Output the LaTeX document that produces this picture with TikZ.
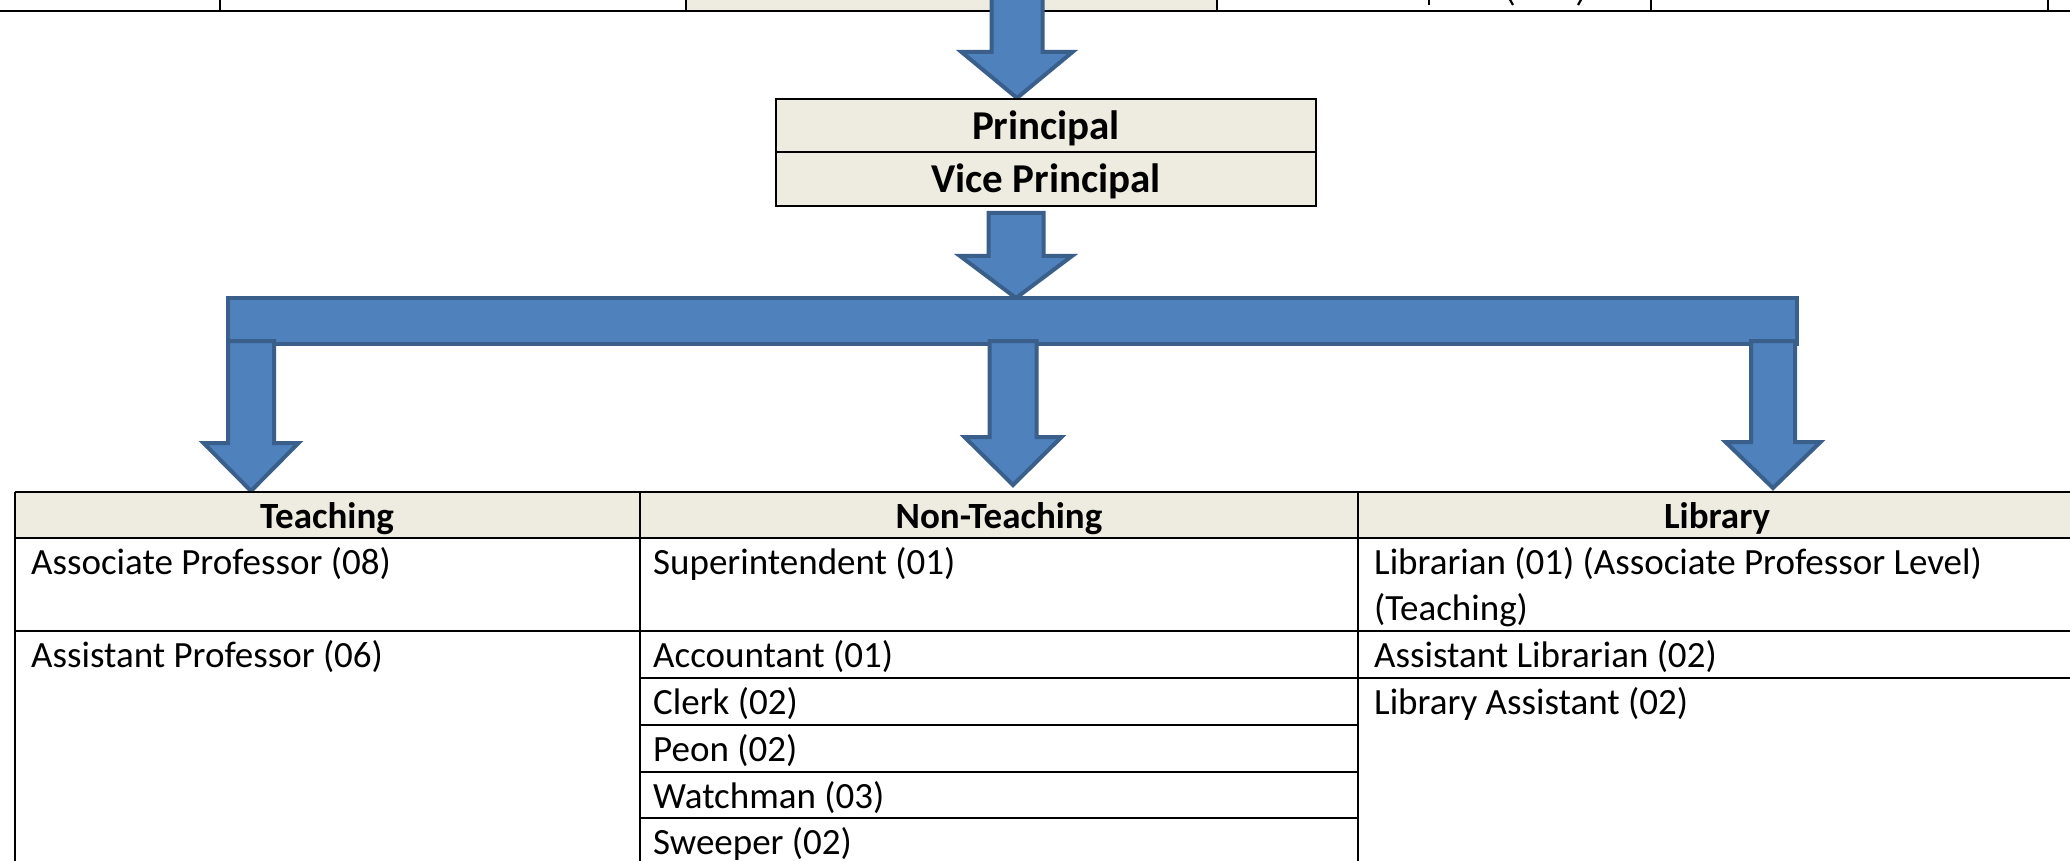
\documentclass[tikz,border=0pt]{standalone}
\usepackage{fontspec}
\setmainfont{Carlito}
\definecolor{arrfill}{HTML}{4F81BD}
\definecolor{arrline}{HTML}{3A5F8B}
\definecolor{beigecell}{HTML}{EEECE1}
\tikzset{
  blk/.style={fill=arrfill, draw=arrline, line width=4pt, line join=miter},
  gridline/.style={line width=2.2pt, black},
  boxline/.style={line width=2.6pt, black},
  hdrtxt/.style={font=\fontsize{37}{46}\selectfont\bfseries, inner sep=0pt, anchor=base},
  celltxt/.style={font=\fontsize{37}{46}\selectfont, inner sep=0pt, anchor=base west},
  boxtxt/.style={font=\fontsize{41}{50}\selectfont\bfseries, inner sep=0pt, anchor=base},
}
% block arrow: centre x, top y, head start y, tip y, half shaft, half head
\newcommand\blockarrow[6]{%
  \draw[blk] ({#1-#5},#2) -- ({#1+#5},#2) -- ({#1+#5},#3) -- ({#1+#6},#3)
    -- (#1,#4) -- ({#1-#6},#3) -- ({#1-#5},#3) -- cycle;}
\begin{document}
\begin{tikzpicture}[x=1pt,y=-1pt]
\clip (0,0) rectangle (2070,861);
\fill[white] (0,0) rectangle (2070,861);

% ---- cut-off table at the top
\fill[beigecell] (686,-5) rectangle (1217,11);
\draw[gridline] (0,11) -- (2070,11);
\foreach \xx in {220,686,1217,1651,2048} \draw[gridline] (\xx,-5) -- (\xx,11);
\draw[line width=2.6pt] (1429,-2) -- (1429,5);
\draw[line width=2.2pt] (1509,-2) -- (1513,5);
\draw[line width=2.2pt] (1582,-2) -- (1578,5);

% ---- arrow into principal box
\blockarrow{1017}{-6}{52}{98}{25.5}{55.5}

% ---- principal box
\fill[beigecell] (776,99) rectangle (1316,206);
\draw[boxline] (776,99) rectangle (1316,206);
\draw[boxline] (776,152) -- (1316,152);
\node[boxtxt] (prin) at (1046,140) {Principal};
\node[boxtxt] (vprin) at (1046,193) {Vice Principal};

% ---- arrow to bar
\blockarrow{1016}{213}{256}{298}{27.5}{56}

% ---- bar
\draw[blk] (228,298) rectangle (1797,344);

% ---- three down arrows
\blockarrow{251}{341}{443}{491}{23}{47.5}
\blockarrow{1013}{341}{437}{485}{23.5}{48.5}
\blockarrow{1773}{341}{442}{488}{22}{47.5}

% ---- bottom table
\fill[beigecell] (15,492) rectangle (2075,538);
\draw[gridline] (15,492) -- (2075,492);
\draw[gridline] (15,538) -- (2075,538);
\draw[gridline] (15,631) -- (2075,631);
\draw[gridline] (640,678) -- (2075,678);
\foreach \yy in {725,772,818} \draw[gridline] (640,\yy) -- (1358,\yy);
\foreach \xx in {15,640,1358} \draw[gridline] (\xx,492) -- (\xx,870);

\node[hdrtxt] (hteach) at (327,528) {Teaching};
\node[hdrtxt] (hnont) at (999,528) {Non-Teaching};
\node[hdrtxt] (hlib) at (1717,528) {Library};

\node[celltxt] (t1) at (31,574) {Associate Professor (08)};
\node[celltxt] (t2) at (31,667) {Assistant Professor (06)};

\node[celltxt] (n1) at (653,574) {Superintendent (01)};
\node[celltxt] (n2) at (653,667) {Accountant (01)};
\node[celltxt] (n3) at (653,714) {Clerk (02)};
\node[celltxt] (n4) at (653,761) {Peon (02)};
\node[celltxt] (n5) at (653,808) {Watchman (03)};
\node[celltxt] (n6) at (653,854) {Sweeper (02)};

\node[celltxt] (l1) at (1374,574) {Librarian (01) (Associate Professor Level)};
\node[celltxt] (l1b) at (1374,620) {(Teaching)};
\node[celltxt] (l2) at (1374,667) {Assistant Librarian (02)};
\node[celltxt] (l3) at (1374,714) {Library Assistant (02)};
\end{tikzpicture}
\end{document}
